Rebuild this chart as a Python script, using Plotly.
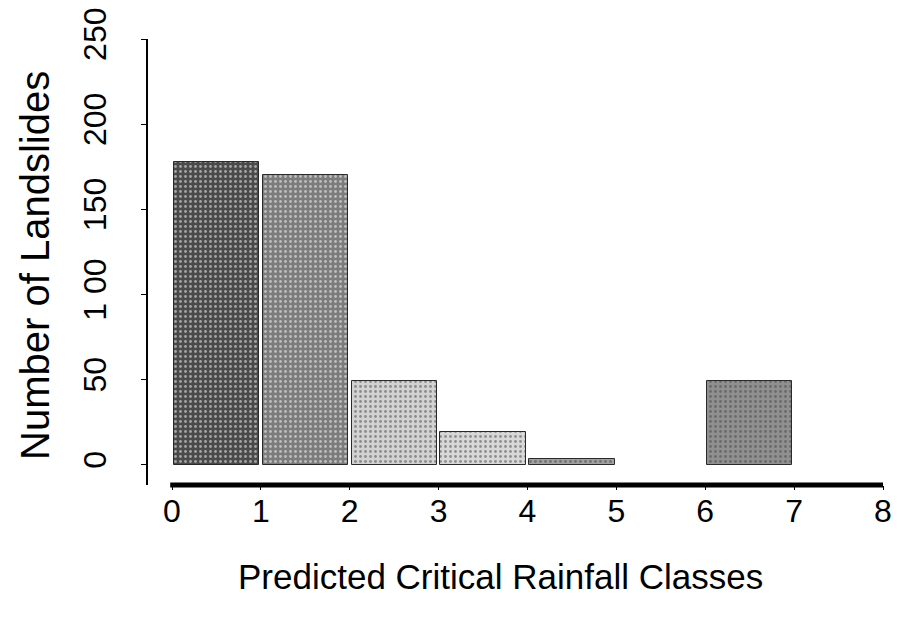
import plotly.graph_objects as go

# Data
class_centers = [0.5, 1.5, 2.5, 3.5, 4.5, 5.5, 6.5]
landslides = [178, 170, 49, 19, 3, 0, 49]
bar_colors = ["#4a4a4a", "#7c7c7c", "#d2d2d2", "#d8d8d8", "#a0a0a0", "#ffffff", "#909090"]
bar_edge_widths = [1, 1, 1, 1, 1, 0, 1]
x_ticks = [0, 1, 2, 3, 4, 5, 6, 7, 8]
y_ticks = [0, 50, 100, 150, 200, 250]
y_tick_text = ["0", "50", "1 00", "150", "200", "250"]

FONT = "Liberation Sans, Arial, Helvetica, sans-serif"

fig = go.Figure()
fig.add_trace(go.Bar(
    x=class_centers,
    y=landslides,
    width=0.96,
    marker=dict(
        color=bar_colors,
        line=dict(color="#2a2a2a", width=bar_edge_widths),
        pattern=dict(shape=".", size=5, solidity=0.25, fgcolor="#262626", fillmode="overlay"),
    ),
    showlegend=False,
))

fig.update_layout(
    template="none",
    width=897, height=625,
    margin=dict(l=148, r=14, t=39, b=140),
    paper_bgcolor="white", plot_bgcolor="white",
    font=dict(family=FONT, color="black"),
    bargap=0,
    xaxis=dict(
        range=[-0.27, 8.0], tickvals=x_ticks, ticktext=[str(v) for v in x_ticks],
        showline=False, showgrid=False, zeroline=False, automargin=False,
        ticks="outside", ticklen=4, tickcolor="black", tickwidth=1,
        tickfont=dict(size=32, family=FONT), ticklabelstandoff=-6,
    ),
    yaxis=dict(
        range=[-12, 250], tickvals=y_ticks, ticktext=y_tick_text,
        showline=True, linecolor="black", linewidth=2,
        showgrid=False, zeroline=False, automargin=False,
        ticks="outside", ticklen=5, tickcolor="black", tickwidth=1,
        tickangle=-90, tickfont=dict(size=32, family=FONT), ticklabelstandoff=22,
    ),
    annotations=[
        dict(text="Number of Landslides", xref="paper", yref="paper",
             x=-0.154, y=0.493, textangle=-90, showarrow=False,
             font=dict(size=40, family=FONT), xanchor="center", yanchor="middle"),
        dict(text="Predicted Critical Rainfall Classes", xref="paper", yref="paper",
             x=0.480, y=-0.206, showarrow=False,
             font=dict(size=35, family=FONT), xanchor="center", yanchor="middle"),
    ],
    shapes=[
        dict(type="line", xref="x", yref="paper", x0=-0.02, x1=8.0, y0=0, y1=0,
             line=dict(color="black", width=5)),
    ],
)

fig.write_html("out.html", config={"displayModeBar": False},
               post_script="document.body.style.margin='0px';")
